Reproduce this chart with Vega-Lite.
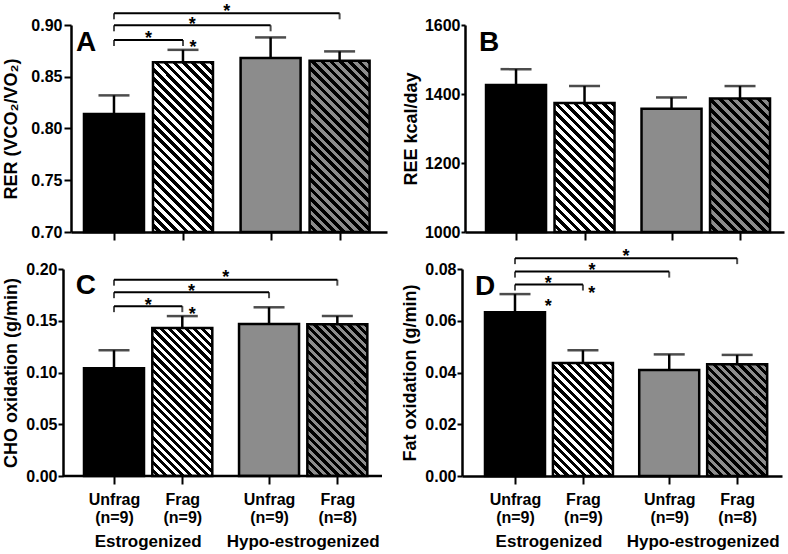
{
"$schema":"https://vega.github.io/schema/vega-lite/v6.json",
"background":"white",
"padding":{"left":2,"top":2,"right":2,"bottom":0},
"config":{"font":"Liberation Sans","view":{"stroke":null},
 "axis":{"grid":false,"domainColor":"#000","domainWidth":2.5,"tickColor":"#000","tickWidth":2,"labelColor":"#000","labelFontWeight":"bold","labelFontSize":16,"titleColor":"#000","titleFontWeight":"bold","titleFontSize":18,"labelFlush":false,"labelOverlap":false}},
"params":[
{"name":"wk25","value":[{"offset":0,"color":"#fff"},{"offset":0.02,"color":"#fff"},{"offset":0.02,"color":"#000"},{"offset":0.04,"color":"#000"},{"offset":0.04,"color":"#fff"},{"offset":0.06,"color":"#fff"},{"offset":0.06,"color":"#000"},{"offset":0.08,"color":"#000"},{"offset":0.08,"color":"#fff"},{"offset":0.1,"color":"#fff"},{"offset":0.1,"color":"#000"},{"offset":0.12,"color":"#000"},{"offset":0.12,"color":"#fff"},{"offset":0.14,"color":"#fff"},{"offset":0.14,"color":"#000"},{"offset":0.16,"color":"#000"},{"offset":0.16,"color":"#fff"},{"offset":0.18,"color":"#fff"},{"offset":0.18,"color":"#000"},{"offset":0.2,"color":"#000"},{"offset":0.2,"color":"#fff"},{"offset":0.22,"color":"#fff"},{"offset":0.22,"color":"#000"},{"offset":0.24,"color":"#000"},{"offset":0.24,"color":"#fff"},{"offset":0.26,"color":"#fff"},{"offset":0.26,"color":"#000"},{"offset":0.28,"color":"#000"},{"offset":0.28,"color":"#fff"},{"offset":0.3,"color":"#fff"},{"offset":0.3,"color":"#000"},{"offset":0.32,"color":"#000"},{"offset":0.32,"color":"#fff"},{"offset":0.34,"color":"#fff"},{"offset":0.34,"color":"#000"},{"offset":0.36,"color":"#000"},{"offset":0.36,"color":"#fff"},{"offset":0.38,"color":"#fff"},{"offset":0.38,"color":"#000"},{"offset":0.4,"color":"#000"},{"offset":0.4,"color":"#fff"},{"offset":0.42,"color":"#fff"},{"offset":0.42,"color":"#000"},{"offset":0.44,"color":"#000"},{"offset":0.44,"color":"#fff"},{"offset":0.46,"color":"#fff"},{"offset":0.46,"color":"#000"},{"offset":0.48,"color":"#000"},{"offset":0.48,"color":"#fff"},{"offset":0.5,"color":"#fff"},{"offset":0.5,"color":"#000"},{"offset":0.52,"color":"#000"},{"offset":0.52,"color":"#fff"},{"offset":0.54,"color":"#fff"},{"offset":0.54,"color":"#000"},{"offset":0.56,"color":"#000"},{"offset":0.56,"color":"#fff"},{"offset":0.58,"color":"#fff"},{"offset":0.58,"color":"#000"},{"offset":0.6,"color":"#000"},{"offset":0.6,"color":"#fff"},{"offset":0.62,"color":"#fff"},{"offset":0.62,"color":"#000"},{"offset":0.64,"color":"#000"},{"offset":0.64,"color":"#fff"},{"offset":0.66,"color":"#fff"},{"offset":0.66,"color":"#000"},{"offset":0.68,"color":"#000"},{"offset":0.68,"color":"#fff"},{"offset":0.7,"color":"#fff"},{"offset":0.7,"color":"#000"},{"offset":0.72,"color":"#000"},{"offset":0.72,"color":"#fff"},{"offset":0.74,"color":"#fff"},{"offset":0.74,"color":"#000"},{"offset":0.76,"color":"#000"},{"offset":0.76,"color":"#fff"},{"offset":0.78,"color":"#fff"},{"offset":0.78,"color":"#000"},{"offset":0.8,"color":"#000"},{"offset":0.8,"color":"#fff"},{"offset":0.82,"color":"#fff"},{"offset":0.82,"color":"#000"},{"offset":0.84,"color":"#000"},{"offset":0.84,"color":"#fff"},{"offset":0.86,"color":"#fff"},{"offset":0.86,"color":"#000"},{"offset":0.88,"color":"#000"},{"offset":0.88,"color":"#fff"},{"offset":0.9,"color":"#fff"},{"offset":0.9,"color":"#000"},{"offset":0.92,"color":"#000"},{"offset":0.92,"color":"#fff"},{"offset":0.94,"color":"#fff"},{"offset":0.94,"color":"#000"},{"offset":0.96,"color":"#000"},{"offset":0.96,"color":"#fff"},{"offset":0.98,"color":"#fff"},{"offset":0.98,"color":"#000"},{"offset":1,"color":"#000"}]},
{"name":"gk25","value":[{"offset":0,"color":"#8c8c8c"},{"offset":0.02,"color":"#8c8c8c"},{"offset":0.02,"color":"#000"},{"offset":0.04,"color":"#000"},{"offset":0.04,"color":"#8c8c8c"},{"offset":0.06,"color":"#8c8c8c"},{"offset":0.06,"color":"#000"},{"offset":0.08,"color":"#000"},{"offset":0.08,"color":"#8c8c8c"},{"offset":0.1,"color":"#8c8c8c"},{"offset":0.1,"color":"#000"},{"offset":0.12,"color":"#000"},{"offset":0.12,"color":"#8c8c8c"},{"offset":0.14,"color":"#8c8c8c"},{"offset":0.14,"color":"#000"},{"offset":0.16,"color":"#000"},{"offset":0.16,"color":"#8c8c8c"},{"offset":0.18,"color":"#8c8c8c"},{"offset":0.18,"color":"#000"},{"offset":0.2,"color":"#000"},{"offset":0.2,"color":"#8c8c8c"},{"offset":0.22,"color":"#8c8c8c"},{"offset":0.22,"color":"#000"},{"offset":0.24,"color":"#000"},{"offset":0.24,"color":"#8c8c8c"},{"offset":0.26,"color":"#8c8c8c"},{"offset":0.26,"color":"#000"},{"offset":0.28,"color":"#000"},{"offset":0.28,"color":"#8c8c8c"},{"offset":0.3,"color":"#8c8c8c"},{"offset":0.3,"color":"#000"},{"offset":0.32,"color":"#000"},{"offset":0.32,"color":"#8c8c8c"},{"offset":0.34,"color":"#8c8c8c"},{"offset":0.34,"color":"#000"},{"offset":0.36,"color":"#000"},{"offset":0.36,"color":"#8c8c8c"},{"offset":0.38,"color":"#8c8c8c"},{"offset":0.38,"color":"#000"},{"offset":0.4,"color":"#000"},{"offset":0.4,"color":"#8c8c8c"},{"offset":0.42,"color":"#8c8c8c"},{"offset":0.42,"color":"#000"},{"offset":0.44,"color":"#000"},{"offset":0.44,"color":"#8c8c8c"},{"offset":0.46,"color":"#8c8c8c"},{"offset":0.46,"color":"#000"},{"offset":0.48,"color":"#000"},{"offset":0.48,"color":"#8c8c8c"},{"offset":0.5,"color":"#8c8c8c"},{"offset":0.5,"color":"#000"},{"offset":0.52,"color":"#000"},{"offset":0.52,"color":"#8c8c8c"},{"offset":0.54,"color":"#8c8c8c"},{"offset":0.54,"color":"#000"},{"offset":0.56,"color":"#000"},{"offset":0.56,"color":"#8c8c8c"},{"offset":0.58,"color":"#8c8c8c"},{"offset":0.58,"color":"#000"},{"offset":0.6,"color":"#000"},{"offset":0.6,"color":"#8c8c8c"},{"offset":0.62,"color":"#8c8c8c"},{"offset":0.62,"color":"#000"},{"offset":0.64,"color":"#000"},{"offset":0.64,"color":"#8c8c8c"},{"offset":0.66,"color":"#8c8c8c"},{"offset":0.66,"color":"#000"},{"offset":0.68,"color":"#000"},{"offset":0.68,"color":"#8c8c8c"},{"offset":0.7,"color":"#8c8c8c"},{"offset":0.7,"color":"#000"},{"offset":0.72,"color":"#000"},{"offset":0.72,"color":"#8c8c8c"},{"offset":0.74,"color":"#8c8c8c"},{"offset":0.74,"color":"#000"},{"offset":0.76,"color":"#000"},{"offset":0.76,"color":"#8c8c8c"},{"offset":0.78,"color":"#8c8c8c"},{"offset":0.78,"color":"#000"},{"offset":0.8,"color":"#000"},{"offset":0.8,"color":"#8c8c8c"},{"offset":0.82,"color":"#8c8c8c"},{"offset":0.82,"color":"#000"},{"offset":0.84,"color":"#000"},{"offset":0.84,"color":"#8c8c8c"},{"offset":0.86,"color":"#8c8c8c"},{"offset":0.86,"color":"#000"},{"offset":0.88,"color":"#000"},{"offset":0.88,"color":"#8c8c8c"},{"offset":0.9,"color":"#8c8c8c"},{"offset":0.9,"color":"#000"},{"offset":0.92,"color":"#000"},{"offset":0.92,"color":"#8c8c8c"},{"offset":0.94,"color":"#8c8c8c"},{"offset":0.94,"color":"#000"},{"offset":0.96,"color":"#000"},{"offset":0.96,"color":"#8c8c8c"},{"offset":0.98,"color":"#8c8c8c"},{"offset":0.98,"color":"#000"},{"offset":1,"color":"#000"}]},
{"name":"wk20","value":[{"offset":0,"color":"#fff"},{"offset":0.025,"color":"#fff"},{"offset":0.025,"color":"#000"},{"offset":0.05,"color":"#000"},{"offset":0.05,"color":"#fff"},{"offset":0.075,"color":"#fff"},{"offset":0.075,"color":"#000"},{"offset":0.1,"color":"#000"},{"offset":0.1,"color":"#fff"},{"offset":0.125,"color":"#fff"},{"offset":0.125,"color":"#000"},{"offset":0.15,"color":"#000"},{"offset":0.15,"color":"#fff"},{"offset":0.175,"color":"#fff"},{"offset":0.175,"color":"#000"},{"offset":0.2,"color":"#000"},{"offset":0.2,"color":"#fff"},{"offset":0.225,"color":"#fff"},{"offset":0.225,"color":"#000"},{"offset":0.25,"color":"#000"},{"offset":0.25,"color":"#fff"},{"offset":0.275,"color":"#fff"},{"offset":0.275,"color":"#000"},{"offset":0.3,"color":"#000"},{"offset":0.3,"color":"#fff"},{"offset":0.325,"color":"#fff"},{"offset":0.325,"color":"#000"},{"offset":0.35,"color":"#000"},{"offset":0.35,"color":"#fff"},{"offset":0.375,"color":"#fff"},{"offset":0.375,"color":"#000"},{"offset":0.4,"color":"#000"},{"offset":0.4,"color":"#fff"},{"offset":0.425,"color":"#fff"},{"offset":0.425,"color":"#000"},{"offset":0.45,"color":"#000"},{"offset":0.45,"color":"#fff"},{"offset":0.475,"color":"#fff"},{"offset":0.475,"color":"#000"},{"offset":0.5,"color":"#000"},{"offset":0.5,"color":"#fff"},{"offset":0.525,"color":"#fff"},{"offset":0.525,"color":"#000"},{"offset":0.55,"color":"#000"},{"offset":0.55,"color":"#fff"},{"offset":0.575,"color":"#fff"},{"offset":0.575,"color":"#000"},{"offset":0.6,"color":"#000"},{"offset":0.6,"color":"#fff"},{"offset":0.625,"color":"#fff"},{"offset":0.625,"color":"#000"},{"offset":0.65,"color":"#000"},{"offset":0.65,"color":"#fff"},{"offset":0.675,"color":"#fff"},{"offset":0.675,"color":"#000"},{"offset":0.7,"color":"#000"},{"offset":0.7,"color":"#fff"},{"offset":0.725,"color":"#fff"},{"offset":0.725,"color":"#000"},{"offset":0.75,"color":"#000"},{"offset":0.75,"color":"#fff"},{"offset":0.775,"color":"#fff"},{"offset":0.775,"color":"#000"},{"offset":0.8,"color":"#000"},{"offset":0.8,"color":"#fff"},{"offset":0.825,"color":"#fff"},{"offset":0.825,"color":"#000"},{"offset":0.85,"color":"#000"},{"offset":0.85,"color":"#fff"},{"offset":0.875,"color":"#fff"},{"offset":0.875,"color":"#000"},{"offset":0.9,"color":"#000"},{"offset":0.9,"color":"#fff"},{"offset":0.925,"color":"#fff"},{"offset":0.925,"color":"#000"},{"offset":0.95,"color":"#000"},{"offset":0.95,"color":"#fff"},{"offset":0.975,"color":"#fff"},{"offset":0.975,"color":"#000"},{"offset":1,"color":"#000"}]},
{"name":"gk20","value":[{"offset":0,"color":"#8c8c8c"},{"offset":0.025,"color":"#8c8c8c"},{"offset":0.025,"color":"#000"},{"offset":0.05,"color":"#000"},{"offset":0.05,"color":"#8c8c8c"},{"offset":0.075,"color":"#8c8c8c"},{"offset":0.075,"color":"#000"},{"offset":0.1,"color":"#000"},{"offset":0.1,"color":"#8c8c8c"},{"offset":0.125,"color":"#8c8c8c"},{"offset":0.125,"color":"#000"},{"offset":0.15,"color":"#000"},{"offset":0.15,"color":"#8c8c8c"},{"offset":0.175,"color":"#8c8c8c"},{"offset":0.175,"color":"#000"},{"offset":0.2,"color":"#000"},{"offset":0.2,"color":"#8c8c8c"},{"offset":0.225,"color":"#8c8c8c"},{"offset":0.225,"color":"#000"},{"offset":0.25,"color":"#000"},{"offset":0.25,"color":"#8c8c8c"},{"offset":0.275,"color":"#8c8c8c"},{"offset":0.275,"color":"#000"},{"offset":0.3,"color":"#000"},{"offset":0.3,"color":"#8c8c8c"},{"offset":0.325,"color":"#8c8c8c"},{"offset":0.325,"color":"#000"},{"offset":0.35,"color":"#000"},{"offset":0.35,"color":"#8c8c8c"},{"offset":0.375,"color":"#8c8c8c"},{"offset":0.375,"color":"#000"},{"offset":0.4,"color":"#000"},{"offset":0.4,"color":"#8c8c8c"},{"offset":0.425,"color":"#8c8c8c"},{"offset":0.425,"color":"#000"},{"offset":0.45,"color":"#000"},{"offset":0.45,"color":"#8c8c8c"},{"offset":0.475,"color":"#8c8c8c"},{"offset":0.475,"color":"#000"},{"offset":0.5,"color":"#000"},{"offset":0.5,"color":"#8c8c8c"},{"offset":0.525,"color":"#8c8c8c"},{"offset":0.525,"color":"#000"},{"offset":0.55,"color":"#000"},{"offset":0.55,"color":"#8c8c8c"},{"offset":0.575,"color":"#8c8c8c"},{"offset":0.575,"color":"#000"},{"offset":0.6,"color":"#000"},{"offset":0.6,"color":"#8c8c8c"},{"offset":0.625,"color":"#8c8c8c"},{"offset":0.625,"color":"#000"},{"offset":0.65,"color":"#000"},{"offset":0.65,"color":"#8c8c8c"},{"offset":0.675,"color":"#8c8c8c"},{"offset":0.675,"color":"#000"},{"offset":0.7,"color":"#000"},{"offset":0.7,"color":"#8c8c8c"},{"offset":0.725,"color":"#8c8c8c"},{"offset":0.725,"color":"#000"},{"offset":0.75,"color":"#000"},{"offset":0.75,"color":"#8c8c8c"},{"offset":0.775,"color":"#8c8c8c"},{"offset":0.775,"color":"#000"},{"offset":0.8,"color":"#000"},{"offset":0.8,"color":"#8c8c8c"},{"offset":0.825,"color":"#8c8c8c"},{"offset":0.825,"color":"#000"},{"offset":0.85,"color":"#000"},{"offset":0.85,"color":"#8c8c8c"},{"offset":0.875,"color":"#8c8c8c"},{"offset":0.875,"color":"#000"},{"offset":0.9,"color":"#000"},{"offset":0.9,"color":"#8c8c8c"},{"offset":0.925,"color":"#8c8c8c"},{"offset":0.925,"color":"#000"},{"offset":0.95,"color":"#000"},{"offset":0.95,"color":"#8c8c8c"},{"offset":0.975,"color":"#8c8c8c"},{"offset":0.975,"color":"#000"},{"offset":1,"color":"#000"}]}
],
"datasets":{
"bars":[
{"p":"A","pos":1,"k":"UE","mean":0.814,"hi":0.832},{"p":"A","pos":2,"k":"FE","mean":0.864,"hi":0.876},{"p":"A","pos":3.27,"k":"UH","mean":0.868,"hi":0.888},{"p":"A","pos":4.27,"k":"FH","mean":0.8655,"hi":0.8745},
{"p":"B","pos":1,"k":"UE","mean":1426,"hi":1472},{"p":"B","pos":2,"k":"FE","mean":1374,"hi":1423},{"p":"B","pos":3.27,"k":"UH","mean":1357,"hi":1390},{"p":"B","pos":4.27,"k":"FH","mean":1387,"hi":1423},
{"p":"C","pos":1,"k":"UE","mean":0.104,"hi":0.1215},{"p":"C","pos":2,"k":"FE","mean":0.143,"hi":0.1545},{"p":"C","pos":3.27,"k":"UH","mean":0.1468,"hi":0.163},{"p":"C","pos":4.27,"k":"FH","mean":0.1465,"hi":0.1545},
{"p":"D","pos":1,"k":"UE","mean":0.0633,"hi":0.0703},{"p":"D","pos":2,"k":"FE","mean":0.0437,"hi":0.0486},{"p":"D","pos":3.27,"k":"UH","mean":0.041,"hi":0.047},{"p":"D","pos":4.27,"k":"FH","mean":0.0432,"hi":0.0468}],
"brk":[
{"p":"A","x1":1,"x2":2,"lvl":0.8855},{"p":"A","x1":1,"x2":3.27,"lvl":0.8997},{"p":"A","x1":1,"x2":4.27,"lvl":0.9113},
{"p":"C","x1":1,"x2":2,"lvl":0.1641},{"p":"C","x1":1,"x2":3.27,"lvl":0.1776},{"p":"C","x1":1,"x2":4.27,"lvl":0.1897},
{"p":"D","x1":1,"x2":2,"lvl":0.074},{"p":"D","x1":1,"x2":3.27,"lvl":0.079},{"p":"D","x1":1,"x2":4.27,"lvl":0.0842}],
"stars":[
{"p":"A","sx":1.5,"sy":0.8913},{"p":"A","sx":2.135,"sy":0.9048},{"p":"A","sx":2.635,"sy":0.9174},{"p":"A","sx":2.145,"sy":0.8826},
{"p":"C","sx":1.5,"sy":0.1695},{"p":"C","sx":2.135,"sy":0.1824},{"p":"C","sx":2.635,"sy":0.1962},{"p":"C","sx":2.145,"sy":0.16},
{"p":"D","sx":1.49,"sy":0.076},{"p":"D","sx":2.135,"sy":0.0813},{"p":"D","sx":2.635,"sy":0.0867},{"p":"D","sx":2.13,"sy":0.0723},{"p":"D","sx":1.49,"sy":0.0674}],
"lbl":[{"p":"A","lx":0.45,"ly":0.8749,"t":"A"},{"p":"B","lx":0.46,"ly":1524.6,"t":"B"},{"p":"C","lx":0.44,"ly":0.176,"t":"C"},{"p":"D","lx":0.41,"ly":0.07,"t":"D"}],
"grp":[{"p":"C","g":"Estrogenized","gx":1.5,"gy":-0.0565},{"p":"C","g":"Hypo-estrogenized","gx":3.77,"gy":-0.0565},{"p":"D","g":"Estrogenized","gx":1.5,"gy":-0.0226},{"p":"D","g":"Hypo-estrogenized","gx":3.77,"gy":-0.0226}],
"base":[{"p":"C","b0":0.253,"b1":4.924}]
},
"spacing":6,
"vconcat":[
{"hconcat":[
{"width":316,"height":207,"layer":[
 {"data":{"name":"bars"},"transform":[{"filter":"datum.p=='A'"}],"mark":{"type":"rule","strokeWidth":2.5,"color":"#000"},
  "encoding":{"x":{"field":"pos","type":"quantitative","scale":{"domain":[0.377,4.957],"nice":false,"zero":false,"padding":0},"axis":{"values":[1,2,3.27,4.27],"labels":false,"tickSize":8,"title":null}},
   "y":{"field":"mean","type":"quantitative","scale":{"domain":[0.7,0.9],"nice":false,"zero":false},"axis":{"title":"RER (VCO₂/VO₂)","values":[0.7,0.75,0.8,0.85,0.9],"format":".2f","tickSize":7,"labelPadding":2,"minExtent":46,"maxExtent":46,"titlePadding":5}},
   "y2":{"field":"hi"}}},
 {"data":{"name":"bars"},"transform":[{"filter":"datum.p=='A' && (datum.k=='UE' || datum.k=='UH')"}],"mark":{"type":"bar","size":60,"stroke":"#000","strokeWidth":2.5},
  "encoding":{"x":{"field":"pos","type":"quantitative"},"y":{"field":"mean","type":"quantitative"},"y2":{"datum":0.7},"fill":{"field":"k","type":"nominal","scale":{"domain":["UE","UH"],"range":["#000","#8c8c8c"]},"legend":null}}},
 {"data":{"name":"bars"},"transform":[{"filter":"datum.p=='A' && datum.k=='FE'"}],"mark":{"type":"bar","size":60,"stroke":"#000","strokeWidth":2.5,"fill":{"expr":"{gradient:'linear',x1:0,y1:1,x2:0.4254,y2:-0.2032,stops:wk25}"}},
  "encoding":{"x":{"field":"pos","type":"quantitative"},"y":{"field":"mean","type":"quantitative"},"y2":{"datum":0.7}}},
 {"data":{"name":"bars"},"transform":[{"filter":"datum.p=='A' && datum.k=='FH'"}],"mark":{"type":"bar","size":60,"stroke":"#000","strokeWidth":2.5,"fill":{"expr":"{gradient:'linear',x1:0,y1:1,x2:0.4213,y2:-0.2027,stops:gk25}"}},
  "encoding":{"x":{"field":"pos","type":"quantitative"},"y":{"field":"mean","type":"quantitative"},"y2":{"datum":0.7}}},
 {"data":{"name":"bars"},"transform":[{"filter":"datum.p=='A'"}],"mark":{"type":"tick","orient":"horizontal","size":31,"thickness":2.5,"color":"#000"},
  "encoding":{"x":{"field":"pos","type":"quantitative"},"y":{"field":"hi","type":"quantitative"}}},
 {"data":{"name":"brk"},"transform":[{"filter":"datum.p=='A'"}],"mark":{"type":"rule","strokeWidth":2,"color":"#000"},
  "encoding":{"x":{"field":"x1","type":"quantitative"},"x2":{"field":"x2"},"y":{"field":"lvl","type":"quantitative"}}},
 {"data":{"name":"brk"},"transform":[{"filter":"datum.p=='A'"}],"mark":{"type":"tick","orient":"vertical","size":6,"thickness":2,"yOffset":3,"color":"#000"},
  "encoding":{"x":{"field":"x1","type":"quantitative"},"y":{"field":"lvl","type":"quantitative"}}},
 {"data":{"name":"brk"},"transform":[{"filter":"datum.p=='A'"}],"mark":{"type":"tick","orient":"vertical","size":6,"thickness":2,"yOffset":3,"color":"#000"},
  "encoding":{"x":{"field":"x2","type":"quantitative"},"y":{"field":"lvl","type":"quantitative"}}},
 {"data":{"name":"stars"},"transform":[{"filter":"datum.p=='A'"}],"mark":{"type":"text","text":"*","fontSize":18,"fontWeight":"bold","baseline":"alphabetic","dy":10,"color":"#000"},
  "encoding":{"x":{"field":"sx","type":"quantitative"},"y":{"field":"sy","type":"quantitative"}}},
 {"data":{"name":"lbl"},"transform":[{"filter":"datum.p=='A'"}],"mark":{"type":"text","fontSize":28,"fontWeight":"bold","align":"left","baseline":"alphabetic","color":"#000"},
  "encoding":{"x":{"field":"lx","type":"quantitative"},"y":{"field":"ly","type":"quantitative"},"text":{"field":"t"}}}
]},
{"width":319,"height":207,"layer":[
 {"data":{"name":"bars"},"transform":[{"filter":"datum.p=='B'"}],"mark":{"type":"rule","strokeWidth":2.5,"color":"#000"},
  "encoding":{"x":{"field":"pos","type":"quantitative","scale":{"domain":[0.255,4.912],"nice":false,"zero":false,"padding":0},"axis":{"values":[1,2,3.27,4.27],"labels":false,"tickSize":8,"title":null}},
   "y":{"field":"mean","type":"quantitative","scale":{"domain":[1000,1600],"nice":false,"zero":false},"axis":{"title":"REE kcal/day","values":[1000,1200,1400,1600],"format":"d","tickSize":4,"labelPadding":1,"minExtent":40,"maxExtent":40,"titlePadding":5}},
   "y2":{"field":"hi"}}},
 {"data":{"name":"bars"},"transform":[{"filter":"datum.p=='B' && (datum.k=='UE' || datum.k=='UH')"}],"mark":{"type":"bar","size":60,"stroke":"#000","strokeWidth":2.5},
  "encoding":{"x":{"field":"pos","type":"quantitative"},"y":{"field":"mean","type":"quantitative"},"y2":{"datum":1000},"fill":{"field":"k","type":"nominal","scale":{"domain":["UE","UH"],"range":["#000","#8c8c8c"]},"legend":null}}},
 {"data":{"name":"bars"},"transform":[{"filter":"datum.p=='B' && datum.k=='FE'"}],"mark":{"type":"bar","size":60,"stroke":"#000","strokeWidth":2.5,"fill":{"expr":"{gradient:'linear',x1:0,y1:1,x2:0.5602,y2:-0.2045,stops:wk20}"}},
  "encoding":{"x":{"field":"pos","type":"quantitative"},"y":{"field":"mean","type":"quantitative"},"y2":{"datum":1000}}},
 {"data":{"name":"bars"},"transform":[{"filter":"datum.p=='B' && datum.k=='FH'"}],"mark":{"type":"bar","size":60,"stroke":"#000","strokeWidth":2.5,"fill":{"expr":"{gradient:'linear',x1:0,y1:1,x2:0.542,y2:-0.2059,stops:gk20}"}},
  "encoding":{"x":{"field":"pos","type":"quantitative"},"y":{"field":"mean","type":"quantitative"},"y2":{"datum":1000}}},
 {"data":{"name":"bars"},"transform":[{"filter":"datum.p=='B'"}],"mark":{"type":"tick","orient":"horizontal","size":31,"thickness":2.5,"color":"#000"},
  "encoding":{"x":{"field":"pos","type":"quantitative"},"y":{"field":"hi","type":"quantitative"}}},
 {"data":{"name":"lbl"},"transform":[{"filter":"datum.p=='B'"}],"mark":{"type":"text","fontSize":28,"fontWeight":"bold","align":"left","baseline":"alphabetic","color":"#000"},
  "encoding":{"x":{"field":"lx","type":"quantitative"},"y":{"field":"ly","type":"quantitative"},"text":{"field":"t"}}}
]}
],"spacing":78,"bounds":"flush"},
{"hconcat":[
{"width":311,"height":207,"layer":[
 {"data":{"name":"bars"},"transform":[{"filter":"datum.p=='C'"}],"mark":{"type":"rule","strokeWidth":2.5,"color":"#000"},
  "encoding":{"x":{"field":"pos","type":"quantitative","scale":{"domain":[0.3704,4.924],"nice":false,"zero":false,"padding":0},"axis":{"values":[1,2,3.27,4.27],"domain":false,"tickSize":8,"labelPadding":7,"labelFontSize":16,"labelLineHeight":18.4,"labelExpr":"datum.value < 1.5 ? ['Unfrag','(n=9)'] : datum.value < 2.5 ? ['Frag','(n=9)'] : datum.value < 3.7 ? ['Unfrag','(n=9)'] : ['Frag','(n=8)']","title":null}},
   "y":{"field":"mean","type":"quantitative","scale":{"domain":[0,0.2],"nice":false,"zero":false},"axis":{"title":"CHO oxidation (g/min)","values":[0,0.05,0.1,0.15,0.2],"format":".2f","offset":8,"tickSize":5,"labelPadding":1,"minExtent":38,"maxExtent":38,"titlePadding":5}},
   "y2":{"field":"hi"}}},
 {"data":{"name":"bars"},"transform":[{"filter":"datum.p=='C' && (datum.k=='UE' || datum.k=='UH')"}],"mark":{"type":"bar","size":60,"stroke":"#000","strokeWidth":2.5},
  "encoding":{"x":{"field":"pos","type":"quantitative"},"y":{"field":"mean","type":"quantitative"},"y2":{"datum":0},"fill":{"field":"k","type":"nominal","scale":{"domain":["UE","UH"],"range":["#000","#8c8c8c"]},"legend":null}}},
 {"data":{"name":"bars"},"transform":[{"filter":"datum.p=='C' && datum.k=='FE'"}],"mark":{"type":"bar","size":60,"stroke":"#000","strokeWidth":2.5,"fill":{"expr":"{gradient:'linear',x1:0,y1:1,x2:0.4893,y2:-0.207,stops:wk25}"}},
  "encoding":{"x":{"field":"pos","type":"quantitative"},"y":{"field":"mean","type":"quantitative"},"y2":{"datum":0}}},
 {"data":{"name":"bars"},"transform":[{"filter":"datum.p=='C' && datum.k=='FH'"}],"mark":{"type":"bar","size":60,"stroke":"#000","strokeWidth":2.5,"fill":{"expr":"{gradient:'linear',x1:0,y1:1,x2:0.4776,y2:-0.2067,stops:gk25}"}},
  "encoding":{"x":{"field":"pos","type":"quantitative"},"y":{"field":"mean","type":"quantitative"},"y2":{"datum":0}}},
 {"data":{"name":"base"},"mark":{"type":"rule","strokeWidth":2.5,"color":"#000"},
  "encoding":{"x":{"field":"b0","type":"quantitative"},"x2":{"field":"b1"},"y":{"datum":0,"type":"quantitative"}}},
 {"data":{"name":"bars"},"transform":[{"filter":"datum.p=='C'"}],"mark":{"type":"tick","orient":"horizontal","size":31,"thickness":2.5,"color":"#000"},
  "encoding":{"x":{"field":"pos","type":"quantitative"},"y":{"field":"hi","type":"quantitative"}}},
 {"data":{"name":"brk"},"transform":[{"filter":"datum.p=='C'"}],"mark":{"type":"rule","strokeWidth":2,"color":"#000"},
  "encoding":{"x":{"field":"x1","type":"quantitative"},"x2":{"field":"x2"},"y":{"field":"lvl","type":"quantitative"}}},
 {"data":{"name":"brk"},"transform":[{"filter":"datum.p=='C'"}],"mark":{"type":"tick","orient":"vertical","size":6,"thickness":2,"yOffset":3,"color":"#000"},
  "encoding":{"x":{"field":"x1","type":"quantitative"},"y":{"field":"lvl","type":"quantitative"}}},
 {"data":{"name":"brk"},"transform":[{"filter":"datum.p=='C'"}],"mark":{"type":"tick","orient":"vertical","size":6,"thickness":2,"yOffset":3,"color":"#000"},
  "encoding":{"x":{"field":"x2","type":"quantitative"},"y":{"field":"lvl","type":"quantitative"}}},
 {"data":{"name":"stars"},"transform":[{"filter":"datum.p=='C'"}],"mark":{"type":"text","text":"*","fontSize":18,"fontWeight":"bold","baseline":"alphabetic","dy":10,"color":"#000"},
  "encoding":{"x":{"field":"sx","type":"quantitative"},"y":{"field":"sy","type":"quantitative"}}},
 {"data":{"name":"lbl"},"transform":[{"filter":"datum.p=='C'"}],"mark":{"type":"text","fontSize":28,"fontWeight":"bold","align":"left","baseline":"alphabetic","color":"#000"},
  "encoding":{"x":{"field":"lx","type":"quantitative"},"y":{"field":"ly","type":"quantitative"},"text":{"field":"t"}}},
 {"data":{"name":"grp"},"transform":[{"filter":"datum.p=='C'"}],"mark":{"type":"text","fontSize":17,"fontWeight":"bold","align":"center","baseline":"top","color":"#000"},
  "encoding":{"x":{"field":"gx","type":"quantitative"},"y":{"field":"gy","type":"quantitative"},"text":{"field":"g"}}}
]},
{"width":320,"height":207,"layer":[
 {"data":{"name":"bars"},"transform":[{"filter":"datum.p=='D'"}],"mark":{"type":"rule","strokeWidth":2.5,"color":"#000"},
  "encoding":{"x":{"field":"pos","type":"quantitative","scale":{"domain":[0.22,4.93],"nice":false,"zero":false,"padding":0},"axis":{"values":[1,2,3.27,4.27],"tickSize":8,"labelPadding":7,"labelFontSize":16,"labelLineHeight":18.4,"labelExpr":"datum.value < 1.5 ? ['Unfrag','(n=9)'] : datum.value < 2.5 ? ['Frag','(n=9)'] : datum.value < 3.7 ? ['Unfrag','(n=9)'] : ['Frag','(n=8)']","title":null}},
   "y":{"field":"mean","type":"quantitative","scale":{"domain":[0,0.08],"nice":false,"zero":false},"axis":{"title":"Fat oxidation (g/min)","values":[0,0.02,0.04,0.06,0.08],"format":".2f","tickSize":5,"labelPadding":1,"minExtent":38,"maxExtent":38,"titlePadding":5}},
   "y2":{"field":"hi"}}},
 {"data":{"name":"bars"},"transform":[{"filter":"datum.p=='D' && (datum.k=='UE' || datum.k=='UH')"}],"mark":{"type":"bar","size":60,"stroke":"#000","strokeWidth":2.5},
  "encoding":{"x":{"field":"pos","type":"quantitative"},"y":{"field":"mean","type":"quantitative"},"y2":{"datum":0},"fill":{"field":"k","type":"nominal","scale":{"domain":["UE","UH"],"range":["#000","#8c8c8c"]},"legend":null}}},
 {"data":{"name":"bars"},"transform":[{"filter":"datum.p=='D' && datum.k=='FE'"}],"mark":{"type":"bar","size":60,"stroke":"#000","strokeWidth":2.5,"fill":{"expr":"{gradient:'linear',x1:0,y1:1,x2:0.6336,y2:-0.1944,stops:wk20}"}},
  "encoding":{"x":{"field":"pos","type":"quantitative"},"y":{"field":"mean","type":"quantitative"},"y2":{"datum":0}}},
 {"data":{"name":"bars"},"transform":[{"filter":"datum.p=='D' && datum.k=='FH'"}],"mark":{"type":"bar","size":60,"stroke":"#000","strokeWidth":2.5,"fill":{"expr":"{gradient:'linear',x1:0,y1:1,x2:0.6403,y2:-0.1931,stops:gk20}"}},
  "encoding":{"x":{"field":"pos","type":"quantitative"},"y":{"field":"mean","type":"quantitative"},"y2":{"datum":0}}},
 {"data":{"name":"bars"},"transform":[{"filter":"datum.p=='D'"}],"mark":{"type":"tick","orient":"horizontal","size":31,"thickness":2.5,"color":"#000"},
  "encoding":{"x":{"field":"pos","type":"quantitative"},"y":{"field":"hi","type":"quantitative"}}},
 {"data":{"name":"brk"},"transform":[{"filter":"datum.p=='D'"}],"mark":{"type":"rule","strokeWidth":2,"color":"#000"},
  "encoding":{"x":{"field":"x1","type":"quantitative"},"x2":{"field":"x2"},"y":{"field":"lvl","type":"quantitative"}}},
 {"data":{"name":"brk"},"transform":[{"filter":"datum.p=='D'"}],"mark":{"type":"tick","orient":"vertical","size":6,"thickness":2,"yOffset":3,"color":"#000"},
  "encoding":{"x":{"field":"x1","type":"quantitative"},"y":{"field":"lvl","type":"quantitative"}}},
 {"data":{"name":"brk"},"transform":[{"filter":"datum.p=='D'"}],"mark":{"type":"tick","orient":"vertical","size":6,"thickness":2,"yOffset":3,"color":"#000"},
  "encoding":{"x":{"field":"x2","type":"quantitative"},"y":{"field":"lvl","type":"quantitative"}}},
 {"data":{"name":"stars"},"transform":[{"filter":"datum.p=='D'"}],"mark":{"type":"text","text":"*","fontSize":18,"fontWeight":"bold","baseline":"alphabetic","dy":10,"color":"#000"},
  "encoding":{"x":{"field":"sx","type":"quantitative"},"y":{"field":"sy","type":"quantitative"}}},
 {"data":{"name":"lbl"},"transform":[{"filter":"datum.p=='D'"}],"mark":{"type":"text","fontSize":28,"fontWeight":"bold","align":"left","baseline":"alphabetic","color":"#000"},
  "encoding":{"x":{"field":"lx","type":"quantitative"},"y":{"field":"ly","type":"quantitative"},"text":{"field":"t"}}},
 {"data":{"name":"grp"},"transform":[{"filter":"datum.p=='D'"}],"mark":{"type":"text","fontSize":17,"fontWeight":"bold","align":"center","baseline":"top","color":"#000"},
  "encoding":{"x":{"field":"gx","type":"quantitative"},"y":{"field":"gy","type":"quantitative"},"text":{"field":"g"}}}
]}
],"spacing":80,"bounds":"flush"}
]
}
